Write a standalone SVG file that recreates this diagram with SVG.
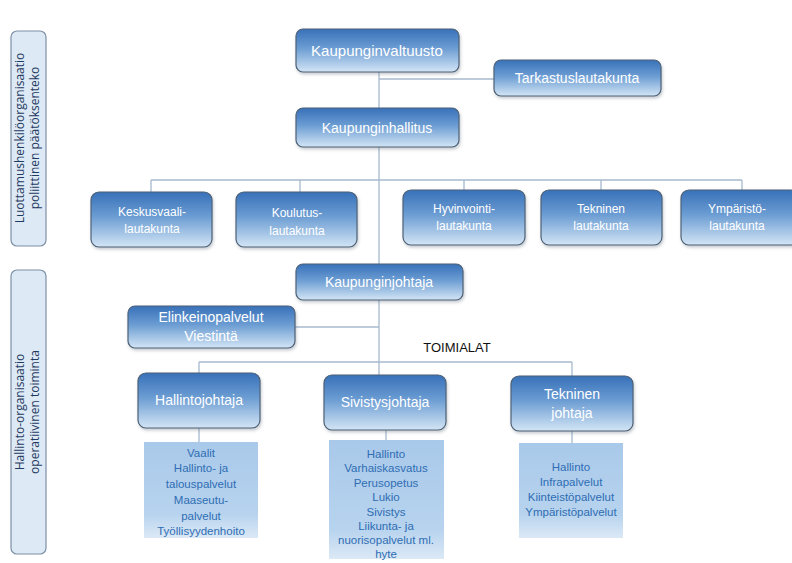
<svg xmlns="http://www.w3.org/2000/svg" width="792" height="563" viewBox="0 0 792 563">
<defs>
<linearGradient id="ng" x1="0" y1="0" x2="0" y2="1">
<stop offset="0" stop-color="#3871b9"/>
<stop offset="0.45" stop-color="#6c9dd3"/>
<stop offset="1" stop-color="#d3e5f5"/>
</linearGradient>
<linearGradient id="lg" x1="0" y1="0" x2="0" y2="1">
<stop offset="0" stop-color="#a9c9ea"/>
<stop offset="0.75" stop-color="#b7d3ee"/>
<stop offset="1" stop-color="#dce9f6"/>
</linearGradient>
<filter id="sh" x="-10%" y="-10%" width="130%" height="140%">
<feDropShadow dx="1" dy="2" stdDeviation="1.5" flood-color="#5a6a7a" flood-opacity="0.35"/>
</filter>
</defs>
<style>
.n{fill:url(#ng);stroke:#4e6176;stroke-width:1.2;filter:url(#sh)}
.t{font-family:"Liberation Sans",Arial,sans-serif;fill:#ffffff;text-anchor:middle}
.big{font-size:15px}
.sm{font-size:12px}
.md{font-size:14px}
.l{fill:url(#lg);stroke:none}
.lt{font-family:"Liberation Sans",Arial,sans-serif;fill:#2e6db3;font-size:11.5px;text-anchor:middle}
.p{fill:#dde9f5;stroke:#7d90a6;stroke-width:1.2}
.pt{font-family:"Open Sans","Liberation Sans",sans-serif;fill:#1f3a5f;font-size:12px;text-anchor:middle}
.c{stroke:#a6b9cd;stroke-width:1.3;fill:none}
</style>
<g id="connectors">
<path class="c" d="M379 72V265M379 79H494M151 180H742M151 180V192M300 180V192M464 180V190M601 180V190M742 180V190"/>
<path class="c" d="M379 300V375M295 327H379M199 362H572M199 362V373M572 362V376"/>
<path class="c" d="M199 428V442M386 430V440M572 431V443"/>
</g>
<g id="panel-politics">
<rect class="p" x="11" y="31" width="35" height="215" rx="6"/>
<text class="pt" transform="translate(24,138) rotate(-90)">Luottamushenkilöorganisaatio</text>
<text class="pt" transform="translate(39,138) rotate(-90)">poliittinen päätöksenteko</text>
</g>
<g id="panel-operations">
<rect class="p" x="11" y="270" width="35" height="284" rx="6"/>
<text class="pt" transform="translate(24,412) rotate(-90)">Hallinto-organisaatio</text>
<text class="pt" transform="translate(39,412) rotate(-90)">operatiivinen toiminta</text>
</g>
<g id="kaupunginvaltuusto">
<rect class="n" x="296" y="29" width="163" height="43" rx="7"/>
<text class="t big" x="377" y="56">Kaupunginvaltuusto</text>
</g>
<g id="tarkastuslautakunta">
<rect class="n" x="494" y="60" width="167" height="36" rx="7"/>
<text class="t md" x="577" y="83">Tarkastuslautakunta</text>
</g>
<g id="kaupunginhallitus">
<rect class="n" x="296" y="108" width="163" height="39" rx="7"/>
<text class="t md" x="377" y="133">Kaupunginhallitus</text>
</g>
<g id="keskusvaalilautakunta">
<rect class="n" x="91" y="192" width="121" height="55" rx="8"/>
<text class="t sm" x="152" y="216">Keskusvaali-</text>
<text class="t sm" x="152" y="233">lautakunta</text>
</g>
<g id="koulutuslautakunta">
<rect class="n" x="236" y="192" width="121" height="55" rx="8"/>
<text class="t sm" x="297" y="217">Koulutus-</text>
<text class="t sm" x="297" y="235">lautakunta</text>
</g>
<g id="hyvinvointilautakunta">
<rect class="n" x="403" y="190" width="122" height="55" rx="8"/>
<text class="t sm" x="464" y="213">Hyvinvointi-</text>
<text class="t sm" x="464" y="230">lautakunta</text>
</g>
<g id="tekninenlautakunta">
<rect class="n" x="541" y="190" width="121" height="55" rx="8"/>
<text class="t sm" x="601" y="213">Tekninen</text>
<text class="t sm" x="601" y="230">lautakunta</text>
</g>
<g id="ymparistolautakunta">
<rect class="n" x="681" y="190" width="118" height="55" rx="8"/>
<text class="t sm" x="737" y="213">Ympäristö-</text>
<text class="t sm" x="737" y="230">lautakunta</text>
</g>
<g id="kaupunginjohtaja">
<rect class="n" x="296" y="264" width="167" height="36" rx="7"/>
<text class="t md" x="379" y="287">Kaupunginjohtaja</text>
</g>
<g id="elinkeinopalvelut">
<rect class="n" x="128" y="306" width="167" height="42" rx="7"/>
<text class="t md" x="211" y="322">Elinkeinopalvelut</text>
<text class="t md" x="211" y="341">Viestintä</text>
</g>
<text x="457" y="352" font-family="Liberation Sans,Arial,sans-serif" font-size="13" fill="#111" text-anchor="middle">TOIMIALAT</text>
<g id="hallintojohtaja">
<rect class="n" x="138" y="373" width="122" height="55" rx="8"/>
<text class="t md" x="199" y="405">Hallintojohtaja</text>
</g>
<g id="sivistysjohtaja">
<rect class="n" x="324" y="375" width="122" height="55" rx="8"/>
<text class="t md" x="385" y="407">Sivistysjohtaja</text>
</g>
<g id="tekninenjohtaja">
<rect class="n" x="511" y="376" width="122" height="55" rx="8"/>
<text class="t md" x="572" y="399">Tekninen</text>
<text class="t md" x="572" y="418">johtaja</text>
</g>
<g id="hallinto-palvelut">
<rect class="l" x="144" y="442" width="114" height="96"/>
<text class="lt" x="201" y="457">Vaalit</text>
<text class="lt" x="201" y="472">Hallinto- ja</text>
<text class="lt" x="201" y="488">talouspalvelut</text>
<text class="lt" x="201" y="504">Maaseutu-</text>
<text class="lt" x="201" y="520">palvelut</text>
<text class="lt" x="201" y="535">Työllisyydenhoito</text>
</g>
<g id="sivistys-palvelut">
<rect class="l" x="329" y="440" width="115" height="119"/>
<text class="lt" x="386" y="458">Hallinto</text>
<text class="lt" x="386" y="472">Varhaiskasvatus</text>
<text class="lt" x="386" y="487">Perusopetus</text>
<text class="lt" x="386" y="501">Lukio</text>
<text class="lt" x="386" y="516">Sivistys</text>
<text class="lt" x="386" y="530">Liikunta- ja</text>
<text class="lt" x="386" y="544">nuorisopalvelut ml.</text>
<text class="lt" x="386" y="558">hyte</text>
</g>
<g id="tekninen-palvelut">
<rect class="l" x="519" y="443" width="104" height="95"/>
<text class="lt" x="571" y="471">Hallinto</text>
<text class="lt" x="571" y="486">Infrapalvelut</text>
<text class="lt" x="571" y="501">Kiinteistöpalvelut</text>
<text class="lt" x="571" y="516">Ympäristöpalvelut</text>
</g>
</svg>
